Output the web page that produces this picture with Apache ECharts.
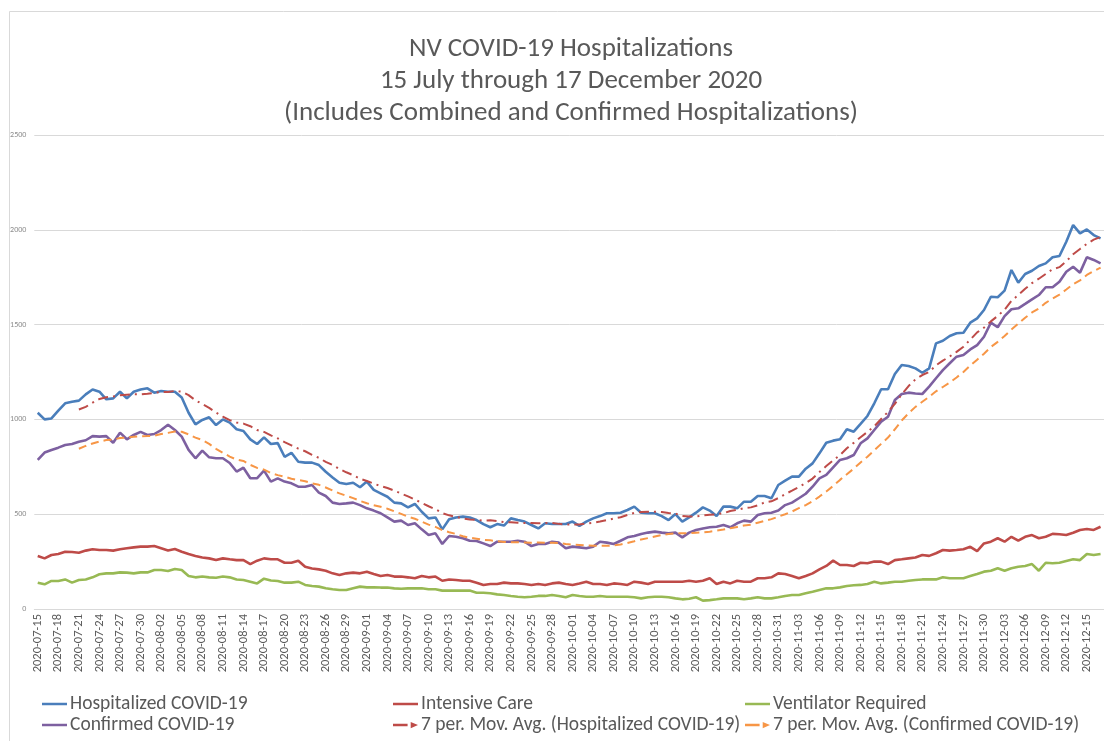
<!DOCTYPE html>
<html>
<head>
<meta charset="utf-8">
<title>NV COVID-19 Hospitalizations</title>
<script src="https://cdn.jsdelivr.net/npm/echarts@6/dist/echarts.min.js"></script>
<style>
  html, body { margin: 0; padding: 0; background: #fff; }
  #chart1 { width: 1104px; height: 741px; }
</style>
</head>
<body>
<div id="chart1"></div>
<script>
// daily values, 2020-07-15 .. 2020-12-17
var hospitalized = [
  1035, 1000, 1005, 1046, 1085, 1093, 1099, 1132, 1158, 1146, 1106, 1111, 1146, 1111, 1146, 1158,
  1164, 1141, 1150, 1146, 1146, 1116, 1035, 974, 997, 1011, 970, 1000, 983, 948, 939, 895,
  870, 905, 870, 875, 803, 824, 777, 772, 772, 759, 724, 694, 666, 659, 666, 642,
  672, 628, 610, 592, 561, 557, 536, 554, 513, 478, 483, 420, 473, 483, 487, 483,
  469, 448, 431, 448, 440, 478, 469, 461, 443, 425, 452, 448, 448, 448, 461, 438,
  461, 478, 490, 505, 505, 508, 522, 540, 508, 505, 505, 490, 469, 501, 461, 483,
  508, 536, 519, 490, 540, 540, 531, 566, 566, 596, 596, 584, 654, 677, 698, 698,
  740, 768, 821, 877, 888, 895, 948, 935, 976, 1018, 1085, 1159, 1159, 1239, 1287, 1282,
  1269, 1246, 1269, 1401, 1415, 1440, 1454, 1457, 1510, 1533, 1577, 1647, 1644, 1679, 1788, 1721,
  1767, 1784, 1809, 1823, 1855, 1862, 1937, 2025, 1981, 2002, 1972, 1955
];
var intensiveCare = [
  280, 267, 285, 290, 302, 301, 297, 308, 315, 311, 311, 308, 315, 320, 325, 329,
  329, 332, 320, 308, 316, 302, 290, 280, 272, 267, 258, 267, 262, 258, 258, 237,
  255, 267, 262, 262, 244, 244, 255, 223, 214, 209, 202, 188, 179, 188, 192, 188,
  197, 185, 174, 179, 171, 171, 167, 162, 174, 167, 171, 149, 156, 153, 149, 149,
  139, 127, 132, 132, 139, 135, 135, 132, 127, 132, 127, 135, 139, 132, 127, 135,
  144, 132, 132, 127, 135, 132, 127, 144, 139, 132, 144, 144, 144, 144, 144, 149,
  144, 149, 162, 132, 144, 135, 149, 144, 144, 162, 162, 167, 188, 185, 174, 162,
  174, 188, 209, 227, 255, 232, 232, 227, 244, 241, 250, 250, 237, 258, 262, 267,
  272, 285, 280, 294, 311, 308, 311, 315, 328, 305, 346, 355, 373, 355, 381, 360,
  381, 390, 373, 381, 396, 394, 390, 402, 417, 422, 417, 434
];
var ventilator = [
  139, 130, 148, 148, 156, 139, 153, 156, 167, 183, 188, 188, 193, 192, 188, 193,
  193, 206, 206, 200, 211, 206, 174, 167, 171, 167, 165, 171, 167, 156, 153, 144,
  135, 160, 150, 148, 139, 139, 144, 127, 121, 118, 109, 104, 100, 100, 109, 118,
  114, 114, 113, 113, 109, 107, 109, 109, 109, 104, 104, 97, 97, 97, 97, 97,
  86, 86, 83, 77, 74, 69, 65, 62, 65, 69, 69, 74, 69, 62, 74, 69,
  65, 65, 69, 65, 65, 65, 65, 62, 56, 62, 65, 65, 62, 56, 51, 54,
  62, 44, 47, 51, 56, 56, 56, 51, 56, 62, 56, 56, 62, 69, 74, 74,
  83, 91, 100, 109, 109, 114, 121, 125, 127, 132, 144, 135, 139, 144, 144, 149,
  153, 156, 156, 156, 167, 162, 162, 162, 174, 185, 197, 202, 215, 202, 215, 223,
  227, 237, 202, 244, 241, 244, 253, 262, 258, 290, 285, 290
];
var confirmed = [
  786, 825, 839, 851, 865, 870, 882, 890, 912, 909, 912, 877, 930, 895, 918, 934,
  918, 923, 944, 972, 944, 909, 839, 795, 835, 800, 795, 795, 770, 725, 745, 690,
  690, 730, 672, 689, 672, 663, 645, 645, 654, 614, 596, 561, 554, 557, 561, 548,
  531, 519, 505, 483, 461, 466, 443, 452, 420, 390, 399, 343, 385, 381, 373, 360,
  359, 346, 332, 355, 355, 355, 360, 355, 332, 343, 343, 355, 350, 320, 329, 325,
  320, 329, 355, 350, 343, 360, 378, 385, 396, 403, 408, 403, 399, 403, 378, 403,
  417, 425, 431, 434, 443, 431, 452, 466, 461, 496, 505, 508, 519, 548, 561, 584,
  608, 645, 689, 707, 747, 786, 795, 812, 874, 900, 944, 988, 1014, 1102, 1134, 1141,
  1137, 1134, 1173, 1217, 1260, 1296, 1331, 1340, 1369, 1392, 1436, 1510, 1486, 1545, 1581, 1586,
  1609, 1633, 1656, 1697, 1697, 1726, 1779, 1805, 1774, 1855, 1841, 1823
];

// category labels: one per day from 2020-07-15
var dates = [];
var d0 = new Date(Date.UTC(2020, 6, 15));
for (var i = 0; i < hospitalized.length; i++) {
  var d = new Date(d0.getTime() + i * 86400000);
  dates.push(d.toISOString().slice(0, 10));
}

var yTicks = { min: 0, max: 2500, step: 500 };

// Excel's "7 per. Mov. Avg." trendline: average of the last 7 daily values
function movingAvg(arr, n) {
  var out = [];
  for (var i = 0; i < arr.length; i++) {
    if (i < n - 1) { out.push(null); continue; }
    var s = 0;
    for (var k = i - n + 1; k <= i; k++) s += arr[k];
    out.push(Math.round(s / n));
  }
  // arrow head on the last point, like the excel trendline end
  out[out.length - 1] = { value: out[out.length - 1], symbol: 'arrow', symbolSize: [7, 9], symbolRotate: -58 };
  return out;
}

var FONT = 'Carlito, Lato, "Liberation Sans", sans-serif';
var TXT = '#595959';

var cBlue = '#4A7EBB', cRed = '#BE4B48', cGreen = '#98B954', cPurple = '#7D60A0', cOrange = '#F79646';

var solidIcon = 'path://M0,0h26v2.6h-26z';
var arrowIcon = 'path://M0,3.2h14v2.6h-14z M17,1.5l7,3l-7,3z';

function legendItem(name, icon, color) {
  return { name: name, icon: icon, itemStyle: { color: color, borderWidth: 0 } };
}

var legendBase = {
  orient: 'vertical',
  top: 694,
  padding: 0,
  itemGap: 1,
  itemWidth: 25,
  itemHeight: 14,
  selectedMode: false,
  textStyle: { fontSize: 19.5, color: TXT, fontFamily: FONT, padding: [0, 0, 0, -2] }
};

function lineSeries(name, data, color) {
  return {
    name: name, type: 'line', data: data, symbol: 'none', smooth: false,
    lineStyle: { color: color, width: 2.6 }, itemStyle: { color: color },
    emphasis: { disabled: true }, z: 3
  };
}

function trendSeries(name, data, color, dash) {
  return {
    name: name, type: 'line', data: data, symbol: 'none', showSymbol: true,
    connectNulls: false, smooth: false,
    lineStyle: { color: color, width: 2, type: dash },
    itemStyle: { color: color },
    emphasis: { disabled: true }, z: 4
  };
}

var myChart = echarts.init(document.getElementById('chart1'));

var option = {
  animation: false,
  backgroundColor: '#fff',
  title: {
    text: 'NV COVID-19 Hospitalizations\n15 July through 17 December 2020\n(Includes Combined and Confirmed Hospitalizations)',
    left: 566,
    top: 28,
    textAlign: 'center',
    textStyle: { fontSize: 27, fontWeight: 'normal', color: TXT, fontFamily: FONT, lineHeight: 32 }
  },
  graphic: [{
    type: 'rect', left: 7, top: 9, silent: true,
    shape: { width: 1120, height: 760 },
    style: { fill: 'none', stroke: '#d9d9d9', lineWidth: 1 }
  }],
  legend: [
    Object.assign({}, legendBase, { left: 42, data: [
      legendItem('Hospitalized COVID-19', solidIcon, cBlue),
      legendItem('Confirmed COVID-19', solidIcon, cPurple)] }),
    Object.assign({}, legendBase, { left: 393, data: [
      legendItem('Intensive Care', solidIcon, cRed),
      legendItem('7 per. Mov. Avg. (Hospitalized COVID-19)', arrowIcon, cRed)] }),
    Object.assign({}, legendBase, { left: 745, data: [
      legendItem('Ventilator Required', solidIcon, cGreen),
      legendItem('7 per. Mov. Avg. (Confirmed COVID-19)', arrowIcon, cOrange)] })
  ],
  grid: { left: 34.3, right: -4.3, top: 135, bottom: 132, containLabel: false },
  xAxis: {
    type: 'category',
    data: dates,
    boundaryGap: true,
    axisLine: { lineStyle: { color: '#d9d9d9', width: 1 } },
    axisTick: { show: false },
    axisLabel: {
      interval: 2, rotate: 90, margin: 5,
      fontSize: 12.5, color: TXT, fontFamily: FONT
    }
  },
  yAxis: {
    type: 'value',
    min: yTicks.min, max: yTicks.max, interval: yTicks.step,
    axisLine: { show: false },
    axisTick: { show: false },
    splitLine: { lineStyle: { color: '#d9d9d9', width: 1 } },
    axisLabel: {
      fontSize: 8, color: '#8c8c8c', margin: 8, fontFamily: FONT,
      formatter: function (v) { return String(v); }
    }
  },
  series: [
    lineSeries('Hospitalized COVID-19', hospitalized, cBlue),
    lineSeries('Intensive Care', intensiveCare, cRed),
    lineSeries('Ventilator Required', ventilator, cGreen),
    lineSeries('Confirmed COVID-19', confirmed, cPurple),
    trendSeries('7 per. Mov. Avg. (Hospitalized COVID-19)', movingAvg(hospitalized, 7), cRed, [10, 5, 2, 5]),
    trendSeries('7 per. Mov. Avg. (Confirmed COVID-19)', movingAvg(confirmed, 7), cOrange, [8, 5])
  ]
};

myChart.setOption(option);
</script>
</body>
</html>
